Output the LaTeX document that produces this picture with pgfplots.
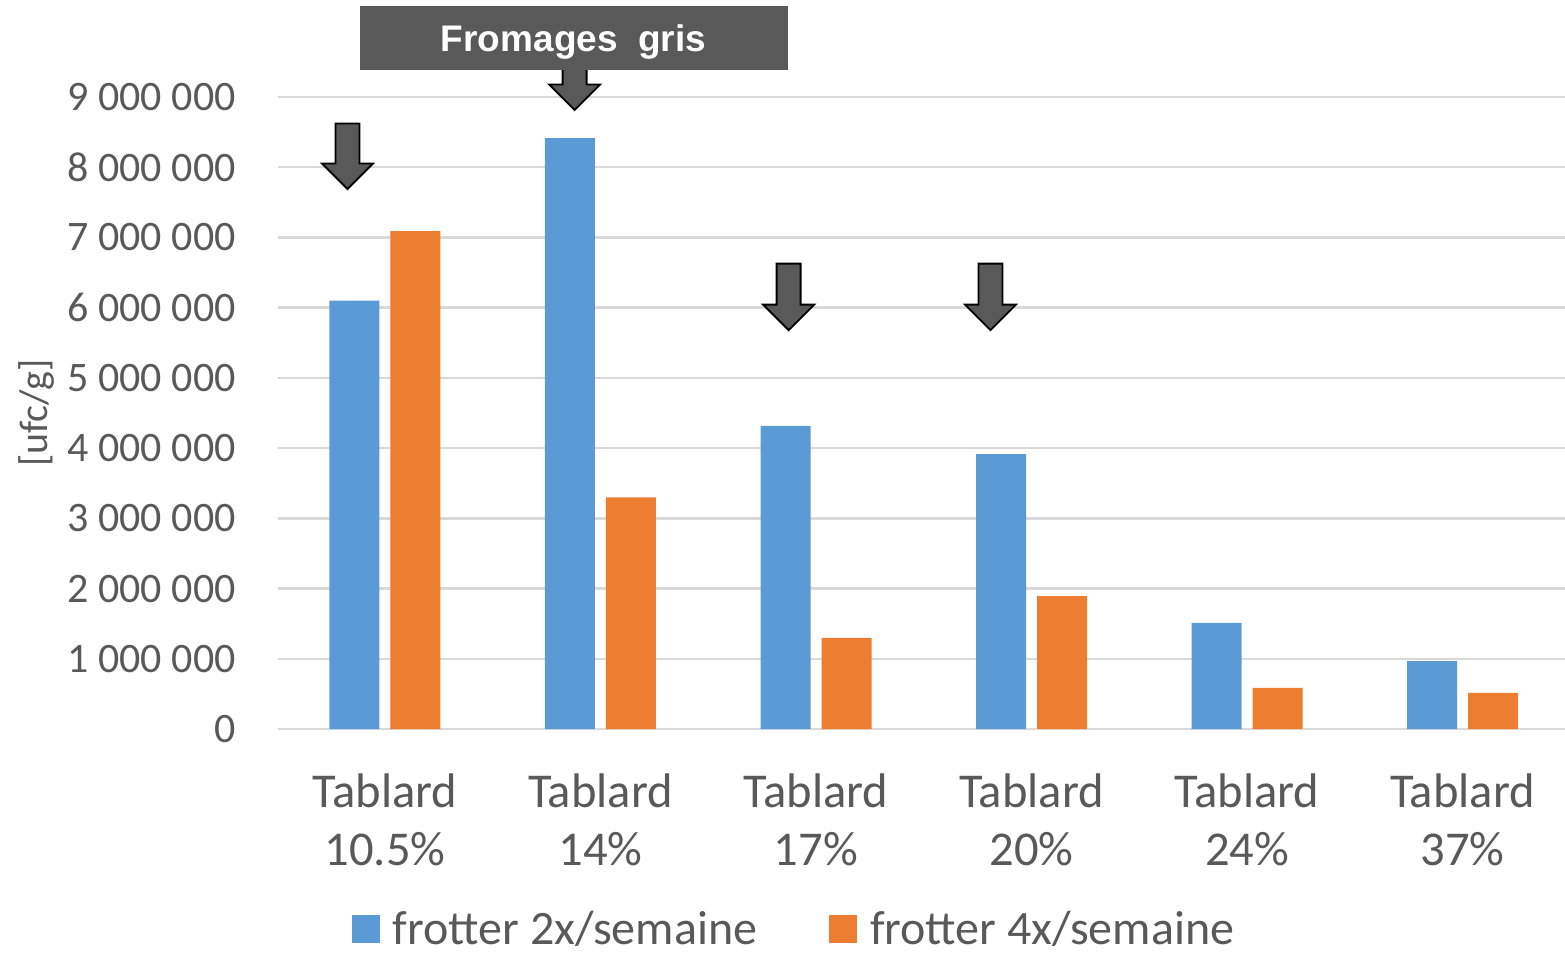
\documentclass[border=0pt]{standalone}
\usepackage{pgfplots}
\pgfplotsset{compat=1.18}
\usepackage{fontspec}
\setmainfont{Carlito}
\newfontfamily\titlefont{Liberation Sans}
\definecolor{sblue}{HTML}{5B9BD5}
\definecolor{sorange}{HTML}{ED7D31}
\definecolor{tgray}{HTML}{595959}
\definecolor{ggray}{HTML}{D9D9D9}
\definecolor{agray}{HTML}{595959}
% down arrow: tip at axis cs (#1,#2), shaft length #3 above the head
\newcommand\darrow[3]{%
  \draw[fill=agray, draw=black, line width=0.9pt, line join=miter]
  (axis cs:#1,#2) -- ++(12.75pt,12.75pt) -- ++(-6.75pt,0pt) -- ++(0pt,#3)
  -- ++(-12pt,0pt) -- ++(0pt,-#3) -- ++(-6.75pt,0pt) -- cycle;}
\begin{document}
\begin{tikzpicture}
\useasboundingbox (-139pt,-112pt) rectangle (643.5pt,364.5pt);
\begin{axis}[
  at={(0pt,0pt)}, anchor=south west,
  scale only axis, width=643.5pt, height=316pt,
  ybar=5.5pt, bar width=25pt,
  clip=false,
  xmin=-0.4965, xmax=5.4756, ymin=0, ymax=9000000,
  xtick={0,1,2,3,4,5},
  xticklabels={Tablard\\10.5\%, Tablard\\14\%, Tablard\\17\%, Tablard\\20\%, Tablard\\24\%, Tablard\\37\%},
  ytick={0,1000000,2000000,3000000,4000000,5000000,6000000,7000000,8000000,9000000},
  yticklabels={0, 1 000 000, 2 000 000, 3 000 000, 4 000 000, 5 000 000, 6 000 000, 7 000 000, 8 000 000, 9 000 000},
  scaled y ticks=false,
  axis line style={draw=none},
  major tick length=0pt,
  ymajorgrids, grid style={ggray, line width=1.2pt},
  xticklabel style={align=center, font=\fontsize{24.3}{29}\selectfont, text=tgray, inner sep=0pt, yshift=-22pt},
  yticklabel style={font=\fontsize{21}{21}\selectfont, text=tgray, inner sep=0pt, xshift=-21pt},
  ylabel={[ufc/g]},
  ylabel style={at={(axis description cs:-0.1873,0.5)}, anchor=center, font=\fontsize{20}{20}\selectfont, text=tgray},
  legend columns=2,
  legend style={at={(axis description cs:0.4002,-0.3165)}, anchor=center, draw=none, fill=none,
    font=\fontsize{24}{24}\selectfont, text=tgray, nodes={inner sep=0pt},
    /tikz/every even column/.append style={column sep=36pt}},
  legend image code/.code={\fill[#1] (0pt,-7pt) rectangle (14pt,7pt); \path (20.5pt,0pt);},
]
\addplot[fill=sblue, draw=none] coordinates {(0,6100000) (1,8416000) (2,4315000) (3,3916000) (4,1510000) (5,968000)};
\addplot[fill=sorange, draw=none] coordinates {(0,7090000) (1,3300000) (2,1296000) (3,1894000) (4,584000) (5,513000)};
\legend{frotter 2x/semaine, frotter 4x/semaine}
\darrow{-0.174}{7690000}{20pt}
\darrow{0.880}{8815000}{8pt}
\darrow{1.873}{5680000}{20.5pt}
\darrow{2.810}{5680000}{20.5pt}
\node[fill=agray, text=white, minimum width=214pt, minimum height=32pt, inner sep=0pt, text depth=0pt,
  font=\titlefont\bfseries\fontsize{18.5}{18.5}\selectfont] at (axis cs:0.875,9840000) {Fromages\ \ gris};
\end{axis}
\end{tikzpicture}
\end{document}
